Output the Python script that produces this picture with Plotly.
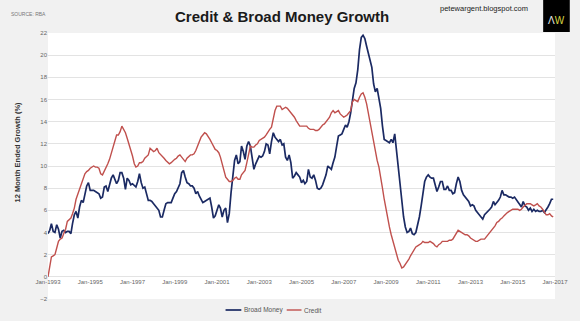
import pandas as pd
import plotly.graph_objects as go

# ---- data (monthly, Jan-1993 .. Dec-2016), 12 month ended growth (%) ----
start_month = "1993-01-01"
broad_money = [
    3.9, 4.2, 4.8, 4.1, 4.0, 4.7, 4.3, 3.5, 4.1, 4.2, 4.0, 4.1,      # 1993
    4.1, 3.9, 4.8, 5.6, 5.9, 5.3, 6.3, 6.9, 6.7, 7.5, 8.2, 8.5,      # 1994
    7.8, 7.8, 7.8, 7.7, 7.6, 7.5, 7.1, 7.2, 8.1, 8.2, 7.7, 8.4,      # 1995
    8.9, 9.2, 8.8, 8.4, 8.7, 9.4, 9.4, 8.9, 7.9, 8.9, 8.7, 8.3,      # 1996
    8.4, 8.2, 8.1, 8.6, 9.3, 8.5, 8.0, 8.1, 7.5, 6.9, 6.9, 6.8,      # 1997
    6.6, 6.4, 6.3, 6.0, 5.4, 5.4, 6.0, 6.6, 6.7, 6.7, 6.7, 7.1,      # 1998
    7.5, 7.7, 8.0, 8.4, 9.4, 9.6, 9.0, 8.5, 8.4, 8.2, 8.2, 8.0,      # 1999
    7.5, 7.7, 7.3, 7.0, 6.7, 6.8, 6.9, 7.0, 7.1, 6.3, 5.3, 5.5,      # 2000
    6.1, 6.5, 6.2, 5.4, 6.0, 6.2, 4.9, 5.7, 7.6, 8.9, 10.5, 11.0,    # 2001
    10.2, 10.4, 11.8, 11.3, 10.6, 11.8, 12.2, 11.8, 10.8, 9.7, 10.2, 10.6,  # 2002
    10.9, 10.8, 10.9, 11.3, 12.0, 11.9, 11.1, 12.2, 13.0, 12.6, 12.4, 12.2,  # 2003
    12.4, 11.9, 12.0, 10.8, 10.5, 11.0, 10.3, 8.9, 9.1, 9.4, 9.2, 9.0,      # 2004
    8.5, 8.7, 8.4, 8.6, 9.7, 9.0, 8.9, 9.2, 8.7, 8.0, 7.9, 8.0,      # 2005
    8.3, 8.7, 9.2, 10.0, 9.8, 9.7, 10.3, 10.8, 11.8, 12.7, 12.8, 12.9,      # 2006
    13.3, 13.7, 13.5, 14.0, 14.8, 15.9, 17.0, 17.5, 18.7, 20.5, 21.6, 21.8,  # 2007
    21.5, 20.8, 20.2, 19.7, 18.9, 17.4, 16.7, 17.0, 16.1, 15.2, 13.6, 12.4,  # 2008
    12.3, 12.2, 12.1, 12.4, 12.1, 12.9, 11.3, 9.9, 8.5, 6.7, 5.4, 4.5,      # 2009
    4.0, 4.1, 4.4, 3.9, 3.8, 4.0, 4.6, 5.4, 6.4, 7.4, 8.6, 9.0,      # 2010
    9.2, 9.0, 8.9, 8.9, 8.2, 7.7, 8.1, 8.6, 8.6, 7.9, 7.9, 8.2,      # 2011
    7.8, 7.8, 7.5, 7.6, 8.4, 9.0, 8.6, 7.8, 7.4, 7.2, 7.1, 6.8,      # 2012
    6.4, 6.5, 6.4, 6.0, 5.8, 5.6, 5.3, 5.2, 5.6, 5.8, 5.9, 6.1,      # 2013
    6.3, 6.8, 6.5, 6.7, 6.9, 7.2, 7.8, 7.4, 7.4, 7.3, 7.2, 7.2,      # 2014
    7.1, 7.2, 7.0, 6.7, 6.5, 6.3, 6.8, 6.4, 6.3, 6.0, 6.2, 5.9,      # 2015
    6.1, 5.9, 6.0, 5.9, 5.9, 6.0, 5.8, 6.0, 6.3, 6.6, 7.0, 7.0,      # 2016
]
credit = [
    0.0, 0.9, 1.8, 1.9, 2.0, 2.6, 3.2, 3.4, 3.5, 3.9, 4.3, 5.0,      # 1993
    5.2, 5.3, 5.7, 6.2, 7.0, 7.5, 8.0, 8.4, 8.9, 9.3, 9.5, 9.6,      # 1994
    9.8, 9.9, 10.0, 9.9, 9.9, 9.8, 9.3, 9.2, 9.5, 9.8, 10.2, 10.6,   # 1995
    11.2, 11.8, 12.4, 12.8, 12.8, 13.1, 13.6, 13.3, 13.0, 12.5, 12.0, 11.4,  # 1996
    10.9, 10.2, 9.9, 10.0, 10.3, 10.3, 10.4, 10.7, 10.9, 11.0, 11.6, 11.4,  # 1997
    11.3, 11.4, 11.6, 11.2, 11.0, 10.9, 10.7, 10.5, 10.3, 10.2, 10.3, 10.5,  # 1998
    10.6, 10.7, 10.9, 11.0, 10.8, 10.5, 10.4, 10.7, 10.9, 11.0, 11.0, 11.1,  # 1999
    11.4, 11.8, 12.2, 12.6, 12.8, 13.0, 12.9, 12.7, 12.4, 12.1, 11.8, 11.5,  # 2000
    11.4, 11.2, 10.8, 10.1, 9.5, 9.0, 8.8, 8.6, 8.6, 8.7, 8.9, 9.0,  # 2001
    8.8, 8.8, 9.2, 9.4, 9.6, 10.3, 11.0, 11.8, 11.7, 11.7, 11.9, 12.0,  # 2002
    12.3, 12.4, 12.5, 12.6, 12.8, 13.1, 13.3, 13.5, 14.4, 15.0, 15.4, 15.4,  # 2003
    15.4, 15.1, 15.2, 15.3, 15.2, 15.0, 14.8, 14.6, 14.4, 14.1, 13.8, 13.6,  # 2004
    13.6, 13.6, 13.6, 13.6, 13.4, 13.3, 13.3, 13.3, 13.2, 13.2, 13.3, 13.5,  # 2005
    13.7, 13.8, 14.0, 14.2, 14.4, 14.8, 15.0, 14.8, 14.9, 15.0, 14.7, 14.5,  # 2006
    14.4, 14.5, 14.6, 14.8, 15.0, 15.8, 16.0, 15.9, 15.8, 16.2, 16.5, 16.6,  # 2007
    16.2, 15.6, 14.8, 13.7, 12.8, 12.0, 11.3, 10.5, 9.9, 9.1, 8.0, 7.0,  # 2008
    6.0, 5.2, 4.5, 3.8, 3.2, 2.6, 1.9, 1.5, 1.2, 0.8, 0.9, 1.1,      # 2009
    1.3, 1.6, 1.9, 2.2, 2.5, 2.7, 2.8, 2.9, 3.0, 3.2, 3.1, 3.1,      # 2010
    3.1, 3.2, 3.1, 3.0, 2.8, 2.7, 2.9, 3.0, 3.2, 3.2, 3.2, 3.2,      # 2011
    3.3, 3.3, 3.4, 3.7, 4.0, 4.2, 4.1, 4.0, 3.9, 3.8, 3.8, 3.7,      # 2012
    3.5, 3.4, 3.3, 3.2, 3.2, 3.3, 3.4, 3.4, 3.4, 3.6, 3.8, 4.0,      # 2013
    4.2, 4.4, 4.6, 4.9, 5.0, 5.2, 5.3, 5.5, 5.7, 5.8, 5.9, 6.0,      # 2014
    6.1, 6.1, 6.1, 6.1, 6.0, 6.1, 6.3, 6.5, 6.6, 6.6, 6.6, 6.5,      # 2015
    6.4, 6.5, 6.6, 6.4, 6.3, 6.1, 5.9, 5.6, 5.6, 5.7, 5.5, 5.4,      # 2016
]
dates = pd.date_range(start_month, periods=len(credit), freq="MS")

series_names = ["Broad Money", "Credit"]
title_text = "Credit &amp; Broad Money Growth"
source_text = "SOURCE: RBA"
url_text = "petewargent.blogspot.com"
ytitle_text = "12 Month Ended Growth (%)"

# ---- layout geometry (pixels) ----
W, H = 580, 321
ML, MR, MT, MB = 48, 18, 33, 22
PW, PH = W - ML - MR, H - MT - MB


def px(x):
    return (x - ML) / PW


def py(y):
    return (H - MB - y) / PH


NAVY = "#1b2a63"
RED = "#c0504d"
FONT = "Liberation Sans Narrow, Liberation Sans, Arial, sans-serif"

fig = go.Figure()
fig.add_trace(go.Scatter(x=dates, y=broad_money, mode="lines", name=series_names[0],
                         line=dict(color=NAVY, width=1.7)))
fig.add_trace(go.Scatter(x=dates, y=credit, mode="lines", name=series_names[1],
                         line=dict(color=RED, width=1.4)))

fig.update_layout(
    width=W, height=H,
    margin=dict(l=ML, r=MR, t=MT, b=MB),
    paper_bgcolor="#f1f1f1",
    plot_bgcolor="#ffffff",
    font=dict(family=FONT, color="#666666", size=6),
    showlegend=False,
    xaxis=dict(type="date", range=["1993-01-01", "2017-01-01"], dtick="M24",
               tick0="1993-01-01", tickformat="%b-%Y", showgrid=False, zeroline=False,
               showline=False, ticks="", anchor="free", position=2 / 24,
               tickfont=dict(size=6, color="#666666", family=FONT)),
    yaxis=dict(range=[-2, 22], dtick=2, showgrid=True, gridcolor="#e3e3e3", gridwidth=1,
               zeroline=False, showline=False, ticks="",
               tickfont=dict(size=6, color="#666666", family=FONT)),
)

# logo box
fig.add_shape(type="rect", xref="paper", yref="paper",
              x0=px(550), x1=px(577), y0=py(32), y1=py(0),
              fillcolor="#000000", line=dict(width=0), layer="above")

# compact legend (line samples + labels)
legend_items = [(series_names[0], NAVY, 1.7, 228, 244), (series_names[1], RED, 1.4, 290, 305)]
for name, col, wd, x0, x1 in legend_items:
    fig.add_shape(type="line", xref="paper", yref="paper", x0=px(x0), x1=px(x1),
                  y0=py(310), y1=py(310), line=dict(color=col, width=wd))
    fig.add_annotation(xref="paper", yref="paper", showarrow=False, text=name,
                       x=px(x1 + 1), y=py(310), xanchor="left", yanchor="middle",
                       font=dict(size=6.5, color="#555555", family=FONT))

annos = [
    dict(text="<b>" + title_text + "</b>", x=px(285), y=py(16), xanchor="center", yanchor="middle",
         font=dict(size=15, color="#1a1a1a", family=FONT)),
    dict(text=source_text, x=px(8), y=py(14), xanchor="left", yanchor="middle",
         font=dict(size=5, color="#777777", family=FONT)),
    dict(text=url_text, x=px(490), y=py(8), xanchor="center", yanchor="middle",
         font=dict(size=7.5, color="#222222", family="Liberation Sans, Arial, sans-serif")),
    dict(text="<span style='color:#e6e6e6'>Λ</span><span style='color:#d8d640'>W</span>",
         x=px(564), y=py(21), xanchor="center", yanchor="middle",
         font=dict(size=10, family="Liberation Sans, Arial, sans-serif")),
    dict(text="<b>" + ytitle_text + "</b>", x=px(17), y=py(152), xanchor="center", yanchor="middle",
         textangle=-90, font=dict(size=7.5, color="#333333", family=FONT)),
]
for a in annos:
    fig.add_annotation(xref="paper", yref="paper", showarrow=False, **a)

fig.write_html("out.html")
